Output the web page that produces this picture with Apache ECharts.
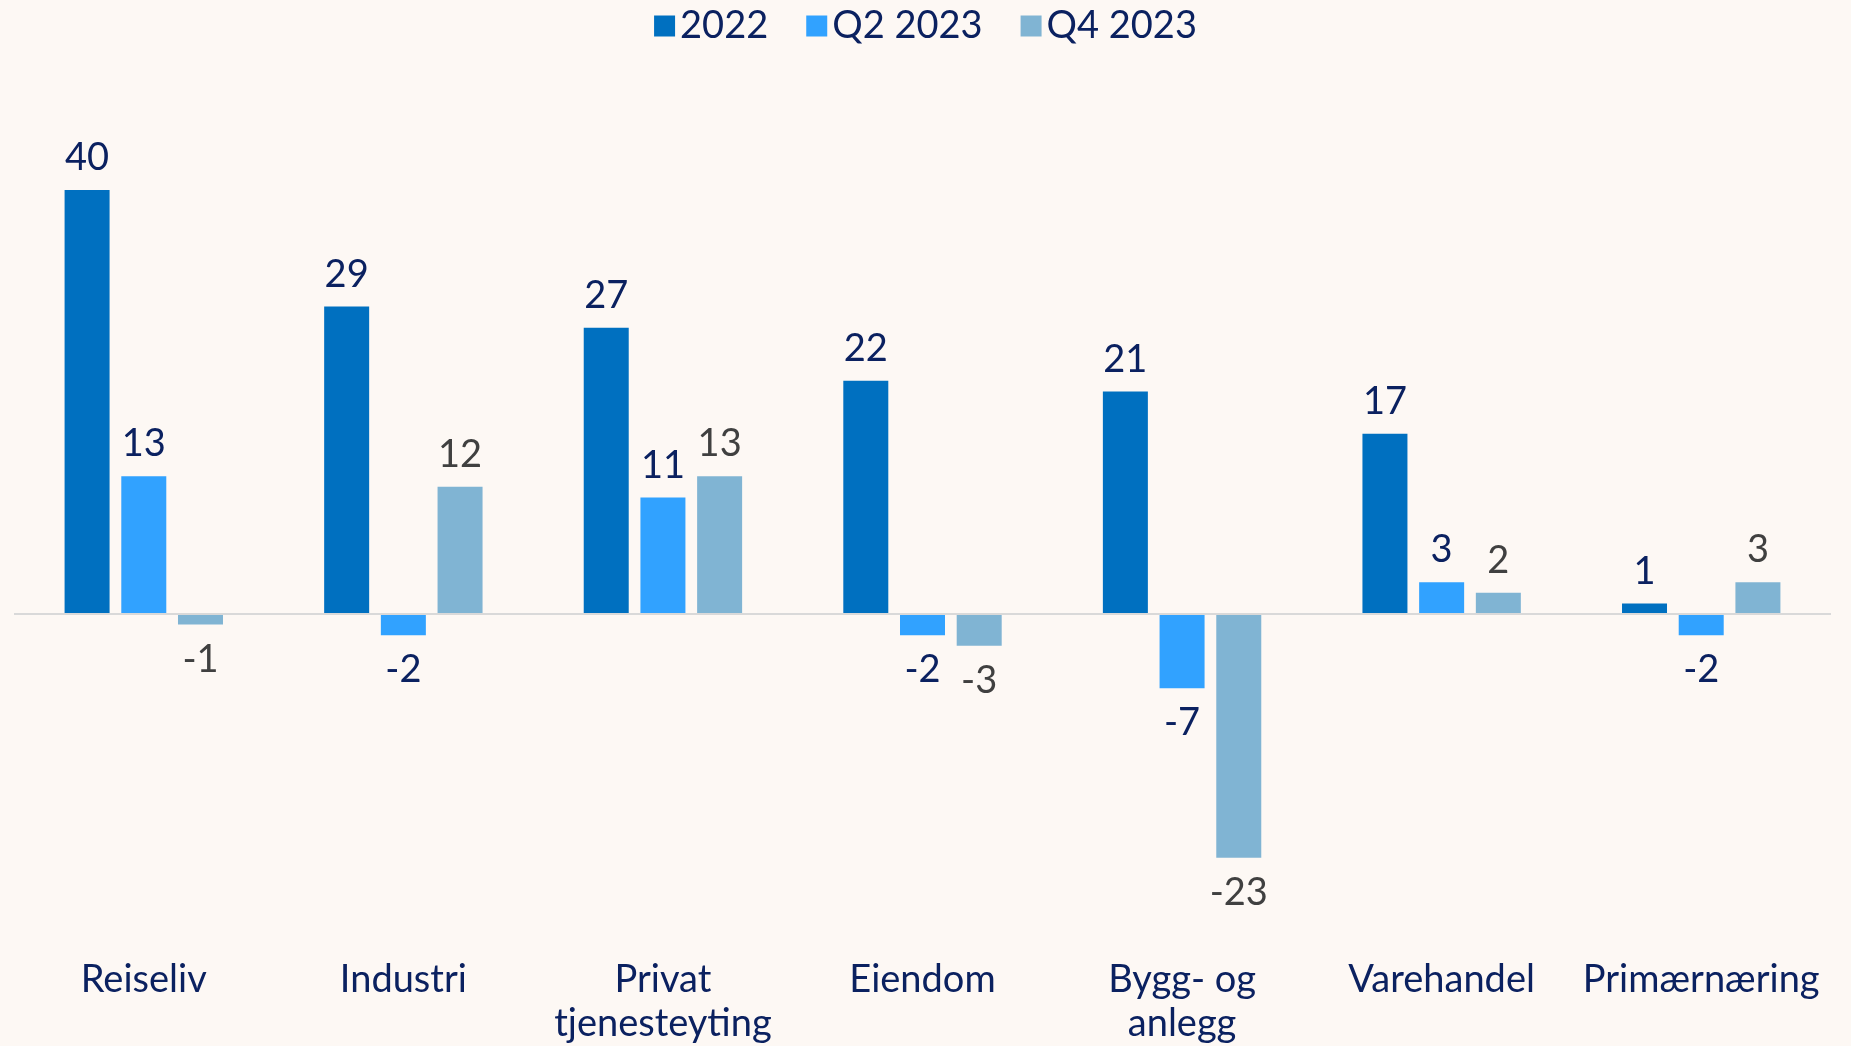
<!DOCTYPE html>
<html>
<head>
<meta charset="utf-8">
<script src="https://cdn.jsdelivr.net/npm/echarts@6/dist/echarts.min.js"></script>
<style>
  html, body { margin: 0; padding: 0; background: #fdf8f4; }
  #main { width: 1851px; height: 1046px; }
</style>
</head>
<body>
<div id="main"></div>
<script>
// 数据
const categories = ['Reiseliv', 'Industri', 'Privat\ntjenesteyting', 'Eiendom', 'Bygg- og\nanlegg', 'Varehandel', 'Primærnæring']
const seriesNames = ['2022', 'Q2 2023', 'Q4 2023']
const values2022 = [40, 29, 27, 22, 21, 17, 1]
const valuesQ2 = [13, -2, 11, -2, -7, 3, -2]
const valuesQ4 = [-1, 12, 13, -3, -23, 2, 3]
const colors = ['#0070c0', '#31a2ff', '#80b4d3']
const labelColors = ['#0b2160', '#0b2160', '#404040']

const fontFamily = 'Lato, "Noto Sans", sans-serif'
const fontSize = 38

// 负值标签放在柱子下方
function toData(list) {
  return list.map(v => ({
    value: v,
    label: {
      position: v < 0 ? 'bottom' : 'top',
      distance: v < 0 ? 16 : 13
    }
  }))
}

function makeSeries(name, list, idx) {
  const s = {
    name: name,
    type: 'bar',
    barWidth: 45,
    barGap: '26%',
    data: toData(list),
    itemStyle: {
      color: colors[idx]
    },
    label: {
      show: true,
      color: labelColors[idx],
      fontSize: fontSize,
      fontFamily: fontFamily
    }
  }
  if (idx === 0) {
    // 零线
    s.markLine = {
      silent: true,
      symbol: 'none',
      label: { show: false },
      lineStyle: { color: '#d9d9d9', width: 2, type: 'solid' },
      data: [{ yAxis: 0 }]
    }
  }
  return s
}

let chart = echarts.init(document.getElementById('main'))
let options = {
  backgroundColor: '#fdf8f4',
  animation: false,
  legend: {
    top: 2,
    left: 'center',
    itemWidth: 21,
    itemHeight: 21,
    itemGap: 38,
    icon: 'rect',
    textStyle: {
      color: '#0b2160',
      fontSize: fontSize,
      fontFamily: fontFamily
    },
    data: seriesNames
  },
  grid: {
    left: 14,
    right: 20,
    top: 137,
    bottom: 112,
    containLabel: false
  },
  xAxis: {
    type: 'category',
    data: categories,
    axisLine: { show: false, onZero: false },
    axisTick: { show: false },
    axisLabel: {
      margin: 26,
      color: '#0b2160',
      fontSize: fontSize,
      lineHeight: 44,
      fontFamily: fontFamily,
      interval: 0
    }
  },
  yAxis: {
    type: 'value',
    min: -30,
    max: 45,
    show: false,
    splitLine: { show: false }
  },
  series: [
    makeSeries(seriesNames[0], values2022, 0),
    makeSeries(seriesNames[1], valuesQ2, 1),
    makeSeries(seriesNames[2], valuesQ4, 2)
  ]
}
chart.setOption(options)
</script>
</body>
</html>
